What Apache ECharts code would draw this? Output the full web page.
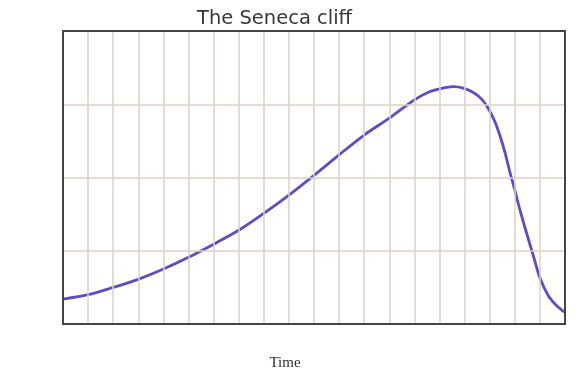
<!DOCTYPE html>
<html>
<head>
<meta charset="utf-8">
<script src="https://cdn.jsdelivr.net/npm/echarts@6/dist/echarts.min.js"></script>
<style>html,body{margin:0;padding:0;background:#fff;}#c{width:586px;height:369px;}</style>
</head>
<body>
<div id="c"></div>
<script>
var chartTitle = 'The Seneca cliff';
var xName = 'Time';
var timeX = [0, 1.0, 2.0, 3.0, 4.0, 5.0, 6.0, 7.0, 8.0, 9.0, 10.0, 11.0, 12.0, 13.0, 14.0, 14.6, 15.0, 15.55, 15.95, 16.35, 16.68, 16.94, 17.21, 17.41, 17.61, 17.8, 18.0, 18.21, 18.47, 18.74, 19.0, 19.33, 19.67, 20.0];
var valueY = [0.34, 0.40, 0.50, 0.61, 0.75, 0.91, 1.09, 1.28, 1.51, 1.76, 2.03, 2.31, 2.58, 2.81, 3.06, 3.17, 3.21, 3.24, 3.22, 3.16, 3.07, 2.945, 2.76, 2.57, 2.34, 2.08, 1.83, 1.55, 1.24, 0.93, 0.63, 0.39, 0.25, 0.16];

var seriesData = timeX.map(function (x, i) { return [x, valueY[i]]; });

var frameLine = { show: true, onZero: false, lineStyle: { color: '#444', width: 2 } };
var hidden = { show: false };

var chart = echarts.init(document.getElementById('c'));
chart.setOption({
  backgroundColor: '#fff',
  animation: false,
  title: {
    text: chartTitle,
    left: 192,
    top: 4,
    textStyle: { fontFamily: 'DejaVu Sans', fontSize: 19.5, fontWeight: 'normal', color: '#3a3636' }
  },
  grid: {
    left: 63, right: 21, top: 31, bottom: 45,
    outerBoundsMode: 'none', containLabel: false
  },
  xAxis: [{
    type: 'value', min: 0, max: 20, interval: 1, position: 'bottom',
    name: xName, nameLocation: 'middle', nameGap: 32,
    nameTextStyle: { fontFamily: 'Liberation Serif', fontSize: 15, color: '#333', padding: [0, 58, 0, 0] },
    axisLine: frameLine, axisTick: hidden, axisLabel: hidden,
    splitLine: { show: true, lineStyle: { color: '#dccfc4', width: 1.5 } },
    z: 3
  }, {
    type: 'value', min: 0, max: 20, interval: 1, position: 'top',
    axisLine: frameLine, axisTick: hidden, axisLabel: hidden, splitLine: hidden, z: 3
  }],
  yAxis: [{
    type: 'value', min: 0, max: 4, interval: 1, position: 'left',
    axisLine: frameLine, axisTick: hidden, axisLabel: hidden,
    splitLine: { show: true, lineStyle: { color: '#dccfc4', width: 1.5 } },
    z: 3
  }, {
    type: 'value', min: 0, max: 4, interval: 1, position: 'right',
    axisLine: frameLine, axisTick: hidden, axisLabel: hidden, splitLine: hidden, z: 3
  }],
  series: [{
    type: 'line',
    data: seriesData,
    smooth: 0.3,
    symbol: 'none',
    lineStyle: { color: '#5a4ec8', width: 2.8 },
    z: 2
  }]
});
</script>
</body>
</html>
